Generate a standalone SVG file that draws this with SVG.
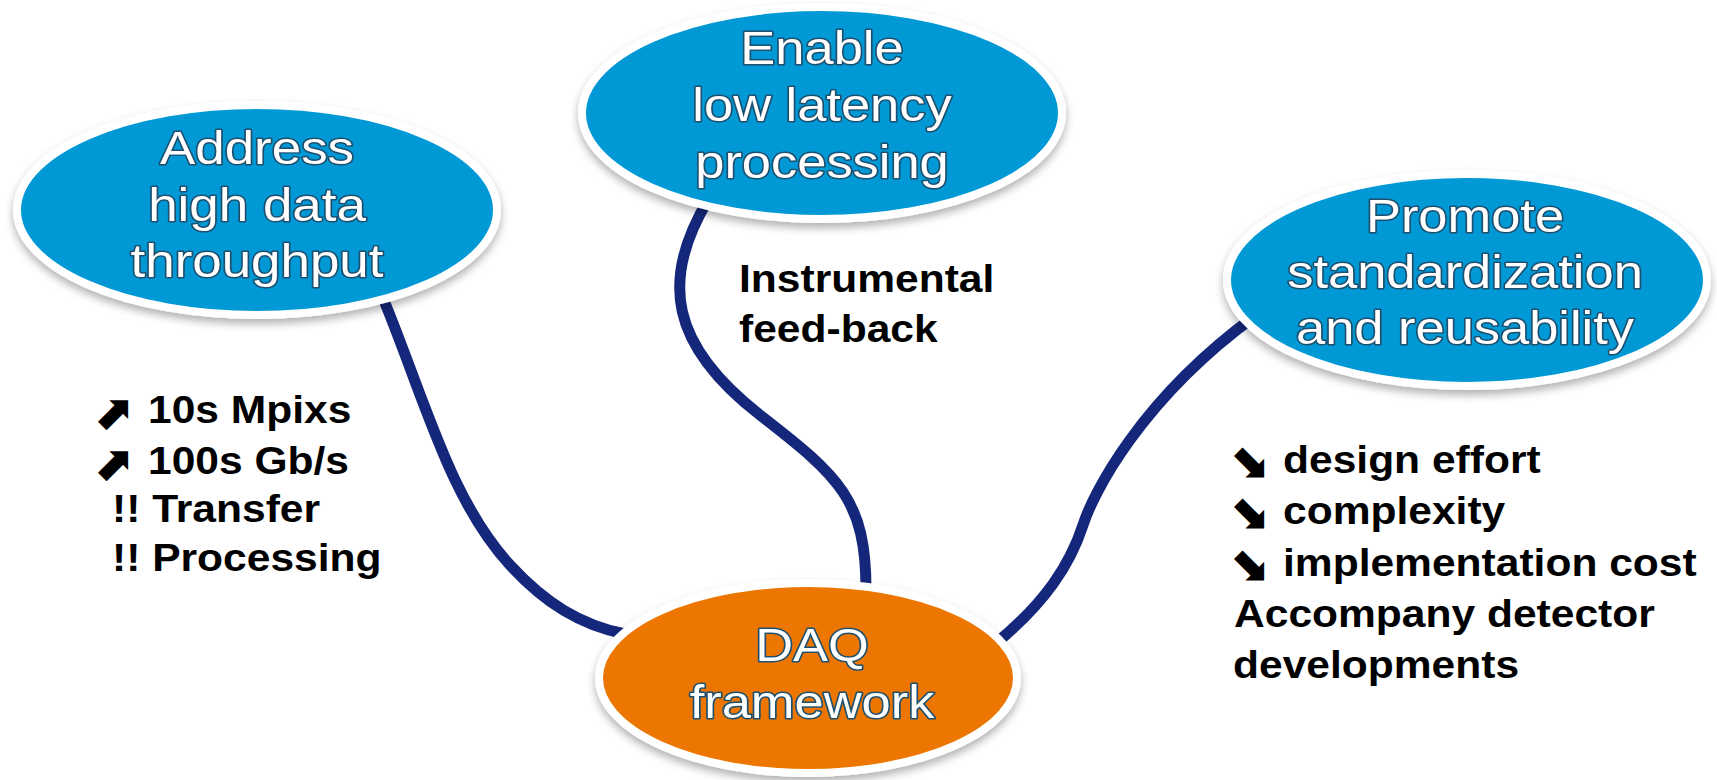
<svg xmlns="http://www.w3.org/2000/svg" width="1717" height="780" viewBox="0 0 1717 780">
<defs>
<filter id="shadow" x="-10%" y="-10%" width="120%" height="130%">
<feDropShadow dx="0" dy="5" stdDeviation="4" flood-color="#000" flood-opacity="0.3"/>
</filter>
<style>
.conn{fill:none;stroke:#15277A;stroke-width:11;stroke-linecap:butt}
.blue{fill:#0199D6;stroke:#fff;stroke-width:8;filter:url(#shadow)}
.orange{fill:#EC7600;stroke:#fff;stroke-width:8;filter:url(#shadow)}
.et{font-family:"Liberation Sans",Arial,sans-serif;font-size:46px;fill:#fff;stroke:#1D4F6E;stroke-width:3;paint-order:stroke;stroke-linejoin:round;text-anchor:middle}
.lt{font-family:"Liberation Sans",Arial,sans-serif;font-size:38px;font-weight:bold;fill:#000}
.ar{font-family:"DejaVu Sans",sans-serif;font-size:46px;font-weight:normal;fill:#000;stroke:#000;stroke-width:1.5;stroke-linejoin:miter}
</style>
</defs>
<rect width="1717" height="780" fill="#fff"/>
<g id="connectors">
<path class="conn" d="M 383 298 C 425 400, 450 500, 510 565 C 545 603, 580 625, 625 634"/>
<path class="conn" d="M 708 200 C 660 280, 670 345, 760 415 C 840 477, 866 500, 866 590"/>
<path class="conn" d="M 995 644 C 1045 603, 1070 565, 1083 525 C 1093 494, 1140 400, 1255 316"/>
</g>
<g id="node-address">
<ellipse class="blue" cx="257" cy="210" rx="240" ry="105"/>
<text class="et" transform="translate(257,164) scale(1.15,1)">Address</text>
<text class="et" transform="translate(257,221) scale(1.15,1)">high data</text>
<text class="et" transform="translate(257,277) scale(1.15,1)">throughput</text>
</g>
<g id="node-enable">
<ellipse class="blue" cx="822" cy="113" rx="240" ry="106"/>
<text class="et" transform="translate(822,64) scale(1.14,1)">Enable</text>
<text class="et" transform="translate(822,121) scale(1.14,1)">low latency</text>
<text class="et" transform="translate(822,178) scale(1.14,1)">processing</text>
</g>
<g id="node-promote">
<ellipse class="blue" cx="1467" cy="280" rx="240" ry="106"/>
<text class="et" transform="translate(1465,232) scale(1.14,1)">Promote</text>
<text class="et" transform="translate(1465,288) scale(1.14,1)">standardization</text>
<text class="et" transform="translate(1465,344) scale(1.14,1)">and reusability</text>
</g>
<g id="node-daq">
<ellipse class="orange" cx="808" cy="678" rx="209" ry="95"/>
<text class="et" transform="translate(812,661) scale(1.14,1)">DAQ</text>
<text class="et" transform="translate(812,718) scale(1.14,1)">framework</text>
</g>
<g id="label-feedback">
<text class="lt" transform="translate(739,292) scale(1.12,1)">Instrumental</text>
<text class="lt" transform="translate(739,342) scale(1.12,1)">feed-back</text>
</g>
<g id="label-throughput">
<text class="ar" x="95" y="428">⬈</text>
<text class="lt" transform="translate(148,423) scale(1.12,1)">10s Mpixs</text>
<text class="ar" x="95" y="479">⬈</text>
<text class="lt" transform="translate(148,474) scale(1.12,1)">100s Gb/s</text>
<text class="lt" transform="translate(112,522) scale(1.12,1)">!! Transfer</text>
<text class="lt" transform="translate(112,571) scale(1.12,1)">!! Processing</text>
</g>
<g id="label-standard">
<text class="ar" x="1231" y="478">⬊</text>
<text class="lt" transform="translate(1283,473) scale(1.12,1)">design effort</text>
<text class="ar" x="1231" y="529">⬊</text>
<text class="lt" transform="translate(1283,524) scale(1.12,1)">complexity</text>
<text class="ar" x="1231" y="581">⬊</text>
<text class="lt" transform="translate(1283,576) scale(1.12,1)">implementation cost</text>
<text class="lt" transform="translate(1234,627) scale(1.12,1)">Accompany detector</text>
<text class="lt" transform="translate(1233,678) scale(1.12,1)">developments</text>
</g>
</svg>
